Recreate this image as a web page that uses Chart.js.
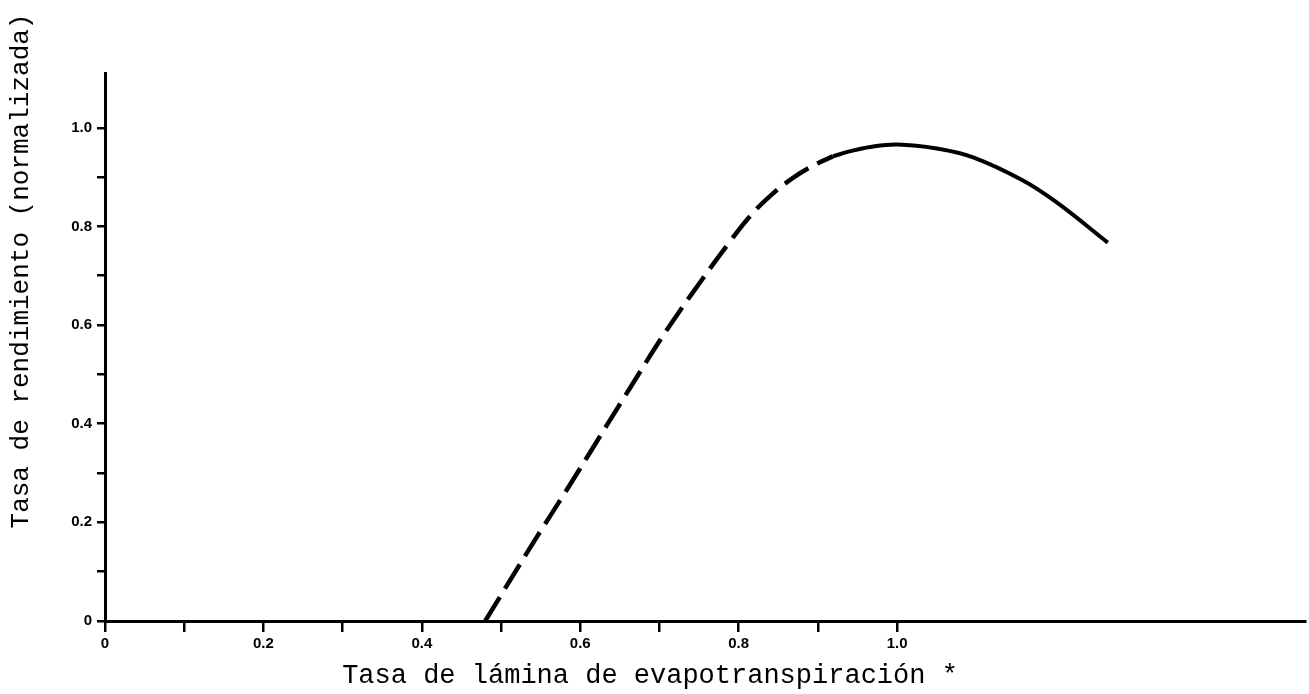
<!DOCTYPE html>
<html>
<head>
<meta charset="utf-8">
<script src="https://cdn.jsdelivr.net/npm/chart.js@4.4.0/dist/chart.umd.min.js"></script>
<style>
  html, body { margin: 0; padding: 0; background: #fff; }
</style>
</head>
<body>
<canvas id="yieldChart" width="1309" height="694"></canvas>
<script>
// Axis ticks and labels
const xTicks = [0, 0.1, 0.2, 0.3, 0.4, 0.5, 0.6, 0.7, 0.8, 0.9, 1.0];
const xTickLabels = ['0', '', '0.2', '', '0.4', '', '0.6', '', '0.8', '', '1.0'];
const yTicks = [0, 0.1, 0.2, 0.3, 0.4, 0.5, 0.6, 0.7, 0.8, 0.9, 1.0];
const yTickLabels = ['0', '', '0.2', '', '0.4', '', '0.6', '', '0.8', '', '1.0'];

// Curve, dashed part
const dashedX = [0.48, 0.52, 0.547, 0.574, 0.609, 0.634, 0.665, 0.697, 0.722, 0.755, 0.787, 0.814, 0.84, 0.87, 0.9, 0.919];
const dashedY = [0, 0.105, 0.175, 0.243, 0.333, 0.398, 0.478, 0.56, 0.62, 0.695, 0.765, 0.82, 0.862, 0.9, 0.928, 0.942];

// Curve, solid part
const solidX = [0.919, 0.94, 0.966, 1.0, 1.05, 1.096, 1.159, 1.202, 1.266];
const solidY = [0.942, 0.952, 0.961, 0.966, 0.958, 0.94, 0.893, 0.848, 0.767];

const xTitle = 'Tasa de lámina de evapotranspiración *';
const yTitle = 'Tasa de rendimiento (normalizada)';

const toPoints = (xs, ys) => xs.map((x, i) => ({ x: x, y: ys[i] }));

const monoFont = "'Courier New', 'Liberation Mono', monospace";
const tickFont = { family: "'Liberation Sans', Arial, sans-serif", size: 15, weight: 'bold' };

// Axis titles drawn by hand so they sit where the original has them
const axisTitlePlugin = {
    id: 'axisTitles',
    afterDraw(chart) {
        const ctx = chart.ctx;
        const area = chart.chartArea;
        ctx.save();
        ctx.fillStyle = '#000';
        ctx.textAlign = 'center';
        ctx.textBaseline = 'middle';
        ctx.font = '27px ' + monoFont;
        ctx.fillText(xTitle, area.left + 545, area.bottom + 55);
        ctx.font = '26px ' + monoFont;
        ctx.translate(21, area.top + 198);
        ctx.rotate(-Math.PI / 2);
        ctx.fillText(yTitle, 0, 0);
        ctx.restore();
    }
};

const ctx = document.getElementById('yieldChart').getContext('2d');
const yieldChart = new Chart(ctx, {
    type: 'scatter',
    data: {
        datasets: [
            {
                data: toPoints(dashedX, dashedY),
                showLine: true,
                borderColor: '#000',
                borderWidth: 4.5,
                borderDash: [28, 10],
                pointRadius: 0,
                tension: 0.4,
                fill: false
            },
            {
                data: toPoints(solidX, solidY),
                showLine: true,
                borderColor: '#000',
                borderWidth: 4,
                pointRadius: 0,
                tension: 0.4,
                fill: false
            }
        ]
    },
    options: {
        responsive: false,
        animation: false,
        layout: {
            padding: { top: 73, right: 4, left: 0, bottom: 0 }
        },
        plugins: {
            legend: { display: false },
            tooltip: { enabled: false }
        },
        scales: {
            x: {
                type: 'linear',
                min: 0,
                max: 1.515,
                afterBuildTicks: (scale) => { scale.ticks = xTicks.map(v => ({ value: v })); },
                afterFit: (scale) => { scale.height = 73; },
                ticks: {
                    autoSkip: false,
                    maxRotation: 0,
                    padding: 3,
                    color: '#000',
                    font: tickFont,
                    callback: (value, index) => xTickLabels[index]
                },
                grid: {
                    drawOnChartArea: false,
                    drawTicks: true,
                    tickLength: 11,
                    color: '#000',
                    lineWidth: 2.5
                },
                border: { display: true, color: '#000', width: 3 }
            },
            y: {
                type: 'linear',
                min: 0,
                max: 1.111,
                afterBuildTicks: (scale) => { scale.ticks = yTicks.map(v => ({ value: v })); },
                afterFit: (scale) => { scale.width = 105; },
                ticks: {
                    autoSkip: false,
                    padding: 5,
                    color: '#000',
                    font: tickFont,
                    callback: (value, index) => yTickLabels[index]
                },
                grid: {
                    drawOnChartArea: false,
                    drawTicks: true,
                    tickLength: 8,
                    color: '#000',
                    lineWidth: 2.5
                },
                border: { display: true, color: '#000', width: 3 }
            }
        }
    },
    plugins: [axisTitlePlugin]
});
</script>
</body>
</html>
